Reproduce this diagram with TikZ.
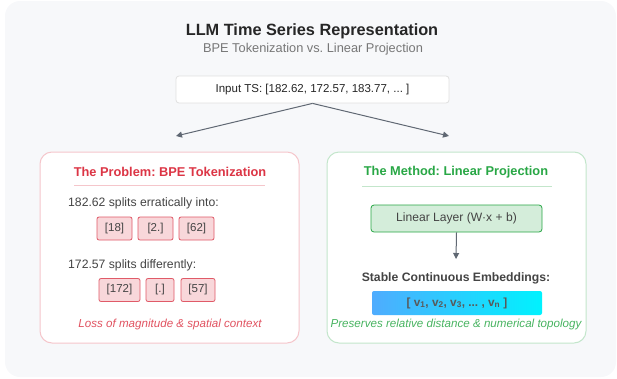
\documentclass[tikz,border=0pt]{standalone}
\usepackage{fontspec}
\setmainfont{Liberation Sans}
\usetikzlibrary{arrows.meta}
\frenchspacing
\definecolor{bgc}{HTML}{F7F8FA}
\definecolor{redt}{HTML}{DC3545}
\definecolor{redb}{HTML}{F5C6CB}
\definecolor{redf}{HTML}{F8D7DA}
\definecolor{redk}{HTML}{E05A68}
\definecolor{grnt}{HTML}{28A745}
\definecolor{grnb}{HTML}{C3E6CB}
\definecolor{grnf}{HTML}{D4EDDA}
\definecolor{txt}{HTML}{444444}
\definecolor{sub}{HTML}{777777}
\definecolor{arr}{HTML}{606873}
\definecolor{gl}{HTML}{4FACFE}
\definecolor{gr}{HTML}{00F2FE}
\tikzset{
  fs/.style={font=\fontsize{#1}{#1}\selectfont},
  panel/.style={draw=#1, line width=1pt, fill=white, rounded corners=12pt},
  tok/.style={draw=redk, fill=redf, line width=0.8pt, rounded corners=2pt, minimum height=23pt, inner sep=0pt, text=txt, fs=11.5},
  conn/.style={draw=arr, line width=1pt, -{Triangle[length=6pt,width=6pt]}},
}
\begin{document}
\begin{tikzpicture}[x=1pt,y=-1pt]
\useasboundingbox (0,0) rectangle (617,378);
\fill[bgc, rounded corners=15pt] (5,1) rectangle (616,377);
% title
\node[font=\bfseries\fontsize{16.3}{16.3}\selectfont, text=black!85] (title) at (312,31) {LLM Time Series Representation};
\node[fs=12.8, text=sub] (subtitle) at (313,49) {BPE Tokenization vs. Linear Projection};
% input
\node[draw=black!12, fill=white, rounded corners=3pt, minimum width=273pt, minimum height=27pt, fs=11.5, text=black!85, line width=0.8pt] (input) at (312.5,89.5) {Input TS: [182.62, 172.57, 183.77, ... ]};
\coordinate (la) at (176,136);
\coordinate (ra) at (449,136);
\draw[conn] (input.south) -- (la);
\draw[conn] (input.south) -- (ra);
% left panel
\draw[panel=redb] (40,152) rectangle (299,343);
\node[font=\bfseries\fontsize{12.8}{12.8}\selectfont, text=redt] (ltitle) at (170,172) {The Problem: BPE Tokenization};
\draw[redb, line width=1pt] (74,185.5) -- (265,185.5);
\node[anchor=west, fs=12.2, text=txt, inner sep=0pt] (l1) at (68,203) {182.62 splits erratically into:};
\node[tok, minimum width=35pt] (t1) at (114.5,228.5) {[18]};
\node[tok, minimum width=35pt] (t2) at (155.5,228.5) {[2.]};
\node[tok, minimum width=35pt] (t3) at (196.5,228.5) {[62]};
\node[anchor=west, fs=12.2, text=txt, inner sep=0pt] (l2) at (68,265) {172.57 splits differently:};
\node[tok, minimum width=41pt] (t4) at (119.5,290) {[172]};
\node[tok, minimum width=28pt] (t5) at (160,290) {[.]};
\node[tok, minimum width=34pt] (t6) at (198,290) {[57]};
\node[font=\itshape\fontsize{11.6}{11.6}\selectfont, text=redt!85] (lnote) at (170,324) {Loss of magnitude \& spatial context};
% right panel
\draw[panel=grnb] (327,152) rectangle (586,343);
\node[font=\bfseries\fontsize{12.8}{12.8}\selectfont, text=grnt] (rtitle) at (456,172) {The Method: Linear Projection};
\draw[grnb, line width=1pt] (362,186) -- (552,186);
\node[draw=grnt, fill=grnf, line width=0.8pt, rounded corners=3pt, minimum width=171pt, minimum height=27pt, fs=12.1, text=txt] (lin) at (456.5,218.5) {Linear Layer (W·x + b)};
\coordinate (ae) at (456,259);
\draw[conn] (lin.south) -- (ae);
\node[font=\bfseries\fontsize{12.2}{12.2}\selectfont, text=txt] (stable) at (456,278) {Stable Continuous Embeddings:};
\node[left color=gl, right color=gr, rounded corners=2pt, minimum width=170pt, minimum height=24pt, inner sep=0pt, font=\bfseries\fontsize{11.8}{11.8}\selectfont, text=black!65] (emb) at (457,303) {[ v\textsubscript{1}, v\textsubscript{2}, v\textsubscript{3}, ... , v\textsubscript{n} ]};
\node[font=\itshape\fontsize{11.6}{11.6}\selectfont, text=grnt!85] (rnote) at (456,324) {Preserves relative distance \& numerical topology};
\end{tikzpicture}
\end{document}
